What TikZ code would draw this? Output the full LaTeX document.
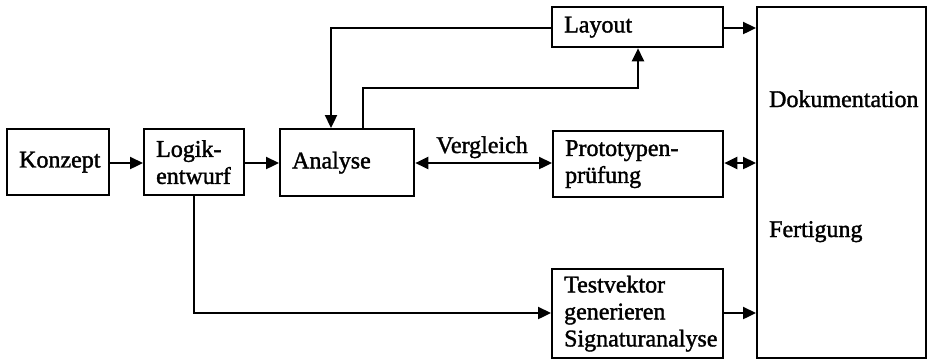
\documentclass[tikz,border=0pt]{standalone}
\usepackage{fontspec}
\setmainfont[FakeBold=1.5,AutoFakeBold=1.5]{Liberation Serif}
\usetikzlibrary{arrows.meta}
\begin{document}
\begin{tikzpicture}[x=0.5pt,y=-0.5pt,
  font=\fontsize{12}{13.5}\selectfont\bfseries,
  line width=1.15pt,
  box/.style={draw, rectangle, anchor=north west, align=left,
    inner xsep=6pt, inner ysep=0pt},
  arr/.style={-{Triangle[length=6.5pt,width=6pt]}},
  darr/.style={{Triangle[length=6.5pt,width=6pt]}-{Triangle[length=6.5pt,width=6pt]}},
  lbl/.style={anchor=base west, inner sep=0pt}]
\useasboundingbox (0,0) rectangle (929,361);

% process boxes (width and height given in pt, half the pixel size)
\node[box, text width=39pt, minimum height=33pt] (konzept) at (6,128) {Konzept};
\node[box, text width=38pt, minimum height=33pt] (logik) at (143,128) {Logik-\\entwurf};
\node[box, text width=55pt, minimum height=33.5pt] (analyse) at (279,128) {Analyse};
\node[box, text width=73.5pt, minimum height=20pt] (layout) at (551,6) {Layout};
\node[box, text width=73pt, minimum height=33pt] (proto) at (552,130) {Prototypen-\\prüfung};
\node[box, text width=73.5pt, minimum height=44.5pt] (test) at (551,268) {Testvektor\\generieren\\Signaturanalyse};
\node[box, minimum width=84.5pt, minimum height=175.5pt] (doc) at (756,6) {};
\node[lbl] (dok) at (768,107) {Dokumentation};
\node[lbl] (fert) at (768,237) {Fertigung};

% main flow
\draw[arr] (konzept.east |- 0,163) -- (logik.west |- 0,163);
\draw[arr] (logik.east |- 0,163) -- (analyse.west |- 0,163);
\draw[darr] (analyse.east |- 0,163) -- (proto.west |- 0,163);
\node[anchor=base, inner sep=0pt] (vgl) at (482,153) {Vergleich};
\draw[darr] (proto.east |- 0,163) -- (doc.west |- 0,163);
\draw[arr] (layout.east |- 0,28) -- (doc.west |- 0,28);
\draw[arr] (test.east |- 0,313) -- (doc.west |- 0,313);

% feedback loops between Analyse and Layout
\draw[arr] (layout.west |- 0,28) -| (analyse.north -| 331,0);
\draw[arr] (analyse.north -| 363,0) |- (638,88) -- (layout.south -| 638,0);

% test vector branch
\draw[arr] (logik.south) |- (test.west |- 0,313);
\end{tikzpicture}
\end{document}
